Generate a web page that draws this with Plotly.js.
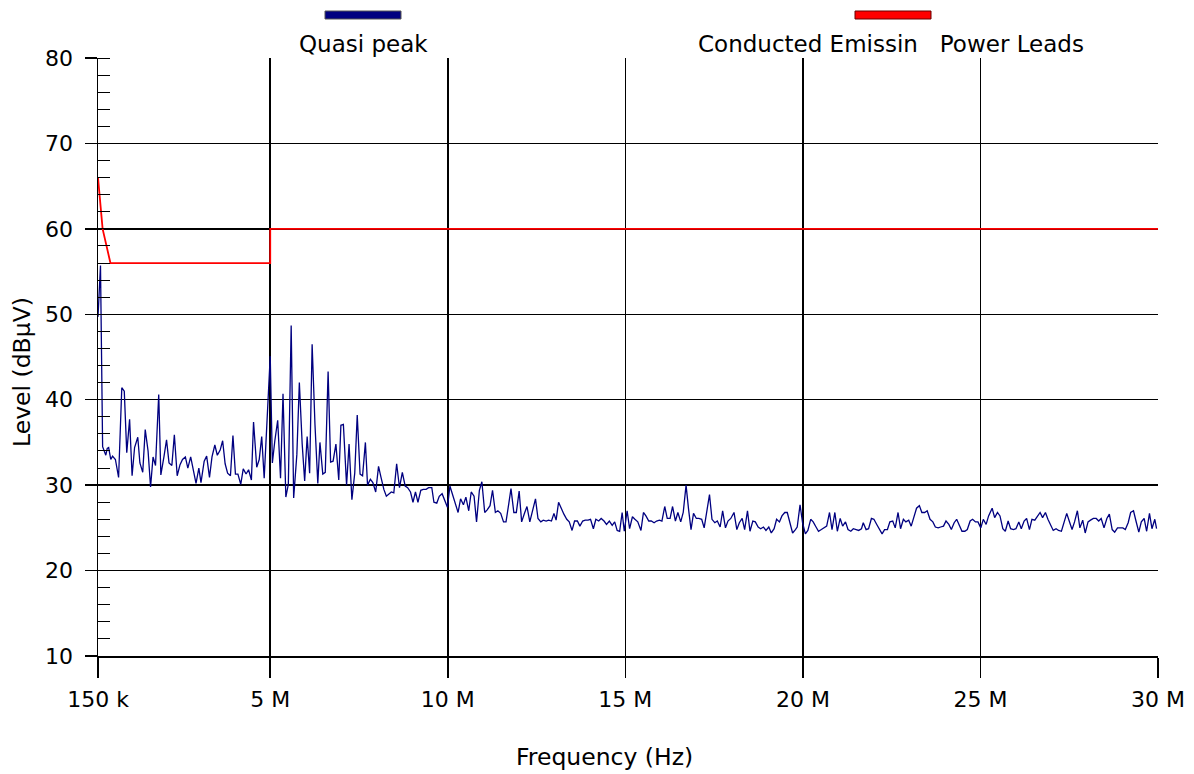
<!DOCTYPE html>
<html>
<head>
<meta charset="utf-8">
<script src="https://cdn.plot.ly/plotly-3.0.1.min.js"></script>
<style>html,body{margin:0;padding:0;background:#fff;}#chart{width:1194px;height:774px;}</style>
</head>
<body>
<div id="chart"></div>
<script>
// ---- Quasi peak measurement (frequency in MHz, level in dBµV) ----
const qpFreq = [
  0.15,0.22,0.28,0.32,0.37,0.41,0.45,0.51,0.56,0.64,
  0.73,0.82,0.89,0.96,1.04,1.11,1.18,1.27,1.33,1.41,
  1.48,1.56,1.63,1.70,1.77,1.86,1.92,2.01,2.08,2.15,
  2.23,2.30,2.38,2.46,2.53,2.61,2.68,2.76,2.84,2.91,
  2.99,3.05,3.14,3.21,3.29,3.36,3.44,3.51,3.59,3.66,
  3.73,3.80,3.88,3.95,4.02,4.09,4.17,4.24,4.32,4.39,
  4.47,4.53,4.62,4.69,4.76,4.83,5.00,
  5.06,5.13,5.21,5.29,5.36,5.44,5.51,5.59,5.66,5.75,
  5.82,5.90,5.97,6.04,6.11,6.18,6.26,6.34,6.40,6.48,
  6.55,6.63,6.70,6.77,6.85,6.93,6.99,7.06,7.15,7.22,
  7.30,7.38,7.45,7.53,7.60,7.68,7.74,7.82,7.89,7.97,
  8.05,8.12,8.20,8.27,8.35,8.41,8.48,8.56,8.64,8.72,
  8.80,8.87,8.95,9.02,9.09,9.16,9.24,9.31,9.39,9.46,
  9.55,9.61,9.69,9.76,9.84,9.92,9.99,10.06,
  10.21,10.29,10.36,10.44,10.51,10.59,10.66,10.74,10.81,10.89,
  10.96,11.04,11.11,11.19,11.26,11.34,11.41,11.49,11.57,11.64,
  11.72,11.78,11.86,11.93,12.01,12.08,12.16,12.23,12.31,12.38,
  12.47,12.54,12.62,12.69,12.77,12.84,12.92,12.99,13.05,13.12,
  13.20,13.27,13.35,13.42,13.50,13.57,13.65,13.72,13.80,13.87,
  13.95,14.02,14.10,14.17,14.25,14.32,14.40,14.47,14.55,14.63,
  14.70,14.77,14.84,14.91,14.97,15.05,15.12,15.20,15.27,15.35,
  15.44,15.51,15.58,15.66,15.73,15.81,15.88,15.96,16.03,16.11,
  16.18,16.26,16.33,16.41,16.48,16.56,16.63,16.71,16.78,16.85,
  16.92,17.00,17.07,17.15,17.22,17.29,17.37,17.44,17.52,17.59,
  17.67,17.74,17.82,17.89,17.97,18.06,18.14,18.21,18.29,18.36,
  18.44,18.51,18.59,18.66,18.74,18.81,18.89,18.96,19.04,19.11,
  19.19,19.26,19.34,19.41,19.49,19.56,19.64,19.71,19.79,19.84,
  19.92,19.99,20.07,20.14,20.22,20.29,20.37,20.44,
  20.52,20.60,20.67,20.75,20.82,20.90,20.97,21.05,21.12,21.20,
  21.27,21.35,21.42,21.50,21.57,21.65,21.70,21.78,21.85,21.93,
  22.00,22.08,22.15,22.23,22.30,22.38,22.45,22.53,22.60,22.68,
  22.75,22.83,22.90,22.98,23.05,23.13,23.20,23.28,23.35,23.43,
  23.50,23.58,23.66,23.73,23.81,23.88,23.96,24.03,24.11,24.18,
  24.26,24.33,24.41,24.48,24.56,24.63,24.71,24.78,24.86,24.93,
  25.01,25.08,25.16,25.23,25.33,25.40,25.48,25.55,
  25.63,25.70,25.78,25.85,25.93,26.00,26.08,26.15,26.23,26.30,
  26.38,26.45,26.53,26.60,26.68,26.75,26.83,26.90,26.98,27.05,
  27.13,27.20,27.28,27.35,27.43,27.50,27.58,27.65,27.73,27.80,
  27.88,27.95,28.03,28.10,28.18,28.26,28.33,28.40,28.48,28.56,
  28.63,28.71,28.78,28.86,28.93,29.01,29.08,29.16,29.23,29.31,
  29.38,29.46,29.53,29.61,29.68,29.76,29.83,29.91,29.96
];
const qpLevel = [
  49.7,55.7,34.5,34.1,33.5,34.3,34.4,33.0,33.4,33.0,
  30.9,41.4,41.0,33.8,37.7,31.1,34.4,35.6,32.6,31.5,
  36.5,34.0,29.8,33.3,32.3,40.6,31.2,33.4,35.3,32.6,
  32.3,35.9,31.1,32.4,33.0,33.3,32.0,33.3,31.6,30.2,
  32.0,30.3,32.8,33.4,30.9,33.3,34.7,33.5,34.1,35.2,
  32.5,31.4,31.1,35.8,31.3,31.3,30.1,31.9,31.3,31.8,
  30.6,37.4,32.1,33.0,35.7,30.8,45.1,
  32.6,35.2,37.6,30.8,40.7,28.6,30.1,48.7,28.5,33.6,
  42.0,34.8,30.5,35.7,31.4,46.5,37.1,30.2,35.0,31.3,
  31.5,43.3,32.7,32.8,34.8,30.6,37.0,37.1,30.0,34.8,
  28.3,31.4,38.2,31.3,31.1,35.0,30.0,30.7,30.3,29.2,
  32.2,30.9,29.5,28.7,29.0,29.2,29.1,32.5,29.7,31.5,
  29.9,29.7,29.2,28.0,29.2,28.0,29.4,29.5,29.5,29.7,
  29.7,28.0,27.9,28.7,29.0,28.0,27.4,29.9,
  27.9,26.8,28.4,27.7,28.6,27.0,29.2,28.7,25.7,29.4,
  30.4,26.8,27.1,27.6,29.4,26.8,27.0,26.7,25.7,25.7,
  27.9,29.6,26.8,26.8,29.3,25.7,26.7,27.5,25.7,26.8,
  28.4,26.1,25.7,25.9,25.8,25.9,25.8,26.7,25.9,28.0,
  27.2,26.6,26.0,25.7,24.7,25.8,25.8,25.2,25.8,25.9,
  25.9,26.0,24.9,26.0,25.8,26.1,25.8,25.4,25.8,25.3,
  25.7,24.7,24.6,26.8,24.6,27.0,24.9,26.3,26.0,25.7,
  24.7,26.8,26.4,25.8,25.8,25.6,25.8,25.9,25.8,27.5,
  26.1,26.1,27.5,25.8,26.8,25.7,26.8,30.0,27.2,24.8,
  26.7,26.1,26.1,26.0,25.0,26.6,28.9,26.0,25.6,25.8,
  25.1,27.0,25.0,25.8,26.1,26.8,24.8,25.6,26.1,24.8,
  27.0,24.6,25.8,25.7,25.1,24.9,25.1,24.7,25.1,24.4,
  24.9,26.0,25.7,26.4,26.8,26.8,25.6,24.4,24.8,25.1,
  27.7,25.6,24.3,24.7,26.0,25.7,25.1,24.6,
  24.8,25.0,25.2,26.8,24.8,26.8,24.6,26.1,25.2,25.7,
  24.8,24.6,24.9,24.8,24.7,24.9,25.6,24.8,24.9,26.1,
  26.0,25.4,24.9,24.3,24.8,24.8,25.7,25.8,25.0,26.8,
  24.9,26.0,25.7,25.9,25.2,26.4,27.3,27.6,26.8,26.8,
  27.0,26.0,25.7,25.1,25.0,25.1,25.2,25.8,25.4,24.8,
  25.6,26.0,25.2,24.6,24.6,24.8,25.8,26.0,25.7,25.7,
  25.0,26.0,25.4,26.4,27.3,26.2,26.8,26.4,
  24.9,24.6,25.8,24.9,24.8,24.9,25.7,24.9,25.8,26.1,
  24.8,26.0,25.9,26.4,26.8,26.2,26.8,26.0,25.2,24.7,
  24.9,24.7,24.6,25.7,26.7,25.8,24.8,25.7,27.0,25.0,
  25.9,24.4,25.7,25.9,26.1,26.1,25.8,26.1,25.0,26.1,
  26.6,24.8,24.5,25.0,25.0,25.0,24.8,25.6,26.8,27.0,
  25.8,24.5,25.7,26.1,24.6,26.7,24.9,26.0,24.9
];

// ---- Limit line: Conducted Emission, Power Leads ----
const limitFreq  = [0.15, 0.21, 0.28, 0.50, 5.0, 5.0, 30.0];
const limitLevel = [66.0, 63.0, 60.0, 56.0, 56.0, 60.0, 60.0];

// ---- Axis ticks ----
const xTickVals = [0.15, 5, 10, 15, 20, 25, 30];
const xTickText = ['150 k', '5 M', '10 M', '15 M', '20 M', '25 M', '30 M'];
const yTickVals = [10, 20, 30, 40, 50, 60, 70, 80];

// ---- Labels ----
const qpName = 'Quasi peak';
const limitName = 'Conducted Emissin\u00a0\u00a0\u00a0Power Leads';
const xTitle = 'Frequency (Hz)';
const yTitle = 'Level (dBµV)';

const FONT = 'DejaVu Sans, Verdana, sans-serif';
const navy = '#000080';
const red = '#ff0000';

const traces = [
  {x: limitFreq, y: limitLevel, type: 'scatter', mode: 'lines', name: limitName,
   line: {color: red, width: 1.8}, hoverinfo: 'skip'},
  {x: qpFreq, y: qpLevel, type: 'scatter', mode: 'lines', name: qpName,
   line: {color: navy, width: 1.3}}
];

// plot area in px: left 98, right 1158, top 58, bottom 656
const W = 1194, H = 774, L = 98, R = 1158, T = 58, B = 656;
const px = v => (v - L) / (R - L);
const py = v => (B - v) / (B - T);

const layout = {
  width: W, height: H,
  margin: {l: L, r: W - R, t: T, b: H - B, pad: 0},
  paper_bgcolor: '#fff', plot_bgcolor: '#fff',
  showlegend: false,
  font: {family: FONT, size: 22, color: '#000'},
  xaxis: {
    range: [0.15, 30], type: 'linear',
    tickmode: 'array', tickvals: xTickVals, ticktext: xTickText,
    ticks: 'outside', ticklen: 20, tickwidth: 1.5, tickcolor: '#000',
    ticklabelstandoff: 3,
    showgrid: true, gridcolor: '#000', gridwidth: 1.5,
    showline: true, linecolor: '#000', linewidth: 1.5,
    zeroline: false,
    tickfont: {family: FONT, size: 22, color: '#000'}
  },
  yaxis: {
    range: [10, 80],
    tickmode: 'array', tickvals: yTickVals,
    ticks: 'outside', ticklen: 12, tickwidth: 1.5, tickcolor: '#000',
    ticklabelstandoff: 7,
    minor: {dtick: 2, tick0: 10, ticks: 'inside', ticklen: 12, tickwidth: 1, tickcolor: '#000', showgrid: false},
    showgrid: true, gridcolor: '#000', gridwidth: 1.5,
    showline: true, linecolor: '#000', linewidth: 1.5,
    zeroline: false,
    tickfont: {family: FONT, size: 22, color: '#000'}
  },
  shapes: [
    {type: 'rect', xref: 'paper', yref: 'paper', x0: px(325), x1: px(401), y0: py(19), y1: py(11),
     fillcolor: navy, line: {color: '#555', width: 1}},
    {type: 'rect', xref: 'paper', yref: 'paper', x0: px(855), x1: px(931), y0: py(19), y1: py(11),
     fillcolor: red, line: {color: '#600', width: 1}}
  ],
  annotations: [
    {xref: 'paper', yref: 'paper', x: px(363), y: py(44), text: qpName, showarrow: false,
     xanchor: 'center', yanchor: 'middle', font: {family: FONT, size: 23, color: '#000'}},
    {xref: 'paper', yref: 'paper', x: px(891), y: py(44), text: limitName, showarrow: false,
     xanchor: 'center', yanchor: 'middle', font: {family: FONT, size: 23, color: '#000'}},
    {xref: 'paper', yref: 'paper', x: px(604), y: py(757), text: xTitle, showarrow: false,
     xanchor: 'center', yanchor: 'middle', font: {family: FONT, size: 23.5, color: '#000'}},
    {xref: 'paper', yref: 'paper', x: px(22), y: py(372), text: yTitle, showarrow: false, textangle: -90,
     xanchor: 'center', yanchor: 'middle', font: {family: FONT, size: 23.5, color: '#000'}}
  ]
};

Plotly.newPlot('chart', traces, layout, {displayModeBar: false, staticPlot: true});
</script>
</body>
</html>
